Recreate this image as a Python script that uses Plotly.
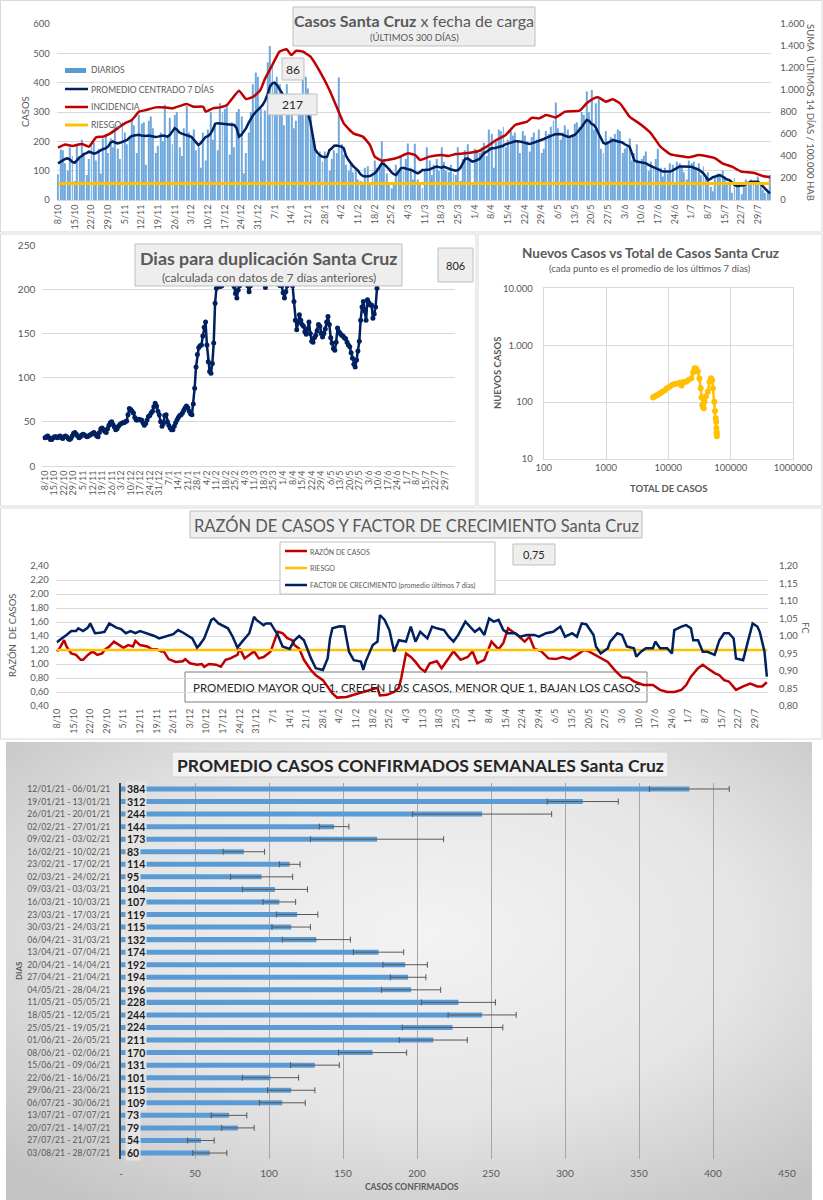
import base64
import plotly.graph_objects as go

W, H = 823, 1200
FONT = "Lato"
GRAY = "#595959"
GRID = "#d9d9d9"
NAVY = "#002060"
RED = "#C00000"
YEL = "#FFC000"
BLUE = "#5B9BD5"

# ---------------- data ----------------
TICK_LABELS = ["8/10", "15/10", "22/10", "29/10", "5/11", "12/11", "19/11", "26/11", "3/12", "10/12",
               "17/12", "24/12", "31/12", "7/1", "14/1", "21/1", "28/1", "4/2", "11/2", "18/2",
               "25/2", "4/3", "11/3", "18/3", "25/3", "1/4", "8/4", "15/4", "22/4", "29/4",
               "6/5", "13/5", "20/5", "27/5", "3/6", "10/6", "17/6", "24/6", "1/7", "8/7",
               "15/7", "22/7", "29/7"]

# daily cases (last 300 days), one value per day
DIARIOS = [
    88, 172, 170, 125, 100, 180, 150, 65, 190, 150,
    205, 160, 85, 140, 200, 195, 135, 175, 90, 210,
    225, 160, 210, 180, 250, 175, 140, 265, 230, 190,
    220, 270, 255, 160, 290, 260, 265, 120, 270, 285,
    245, 160, 185, 230, 200, 325, 220, 280, 190, 290,
    300, 180, 150, 245, 320, 230, 205, 240, 170, 180,
    110, 230, 135, 240, 300, 205, 260, 170, 330, 300,
    310, 320, 155, 265, 180, 300, 310, 285, 90, 160,
    230, 300, 395, 435, 420, 310, 135, 305, 470, 525,
    460, 400, 420, 395, 370, 255, 395, 290, 295, 245,
    270, 290, 330, 420, 420, 380, 300, 205, 175, 150,
    165, 130, 165, 145, 100, 140, 170, 160, 418, 190,
    155, 120, 100, 125, 95, 110, 70, 65, 55, 110,
    115, 55, 95, 135, 110, 120, 200, 140, 90, 60,
    40, 60, 120, 100, 150, 100, 140, 193, 110, 70,
    192, 70, 60, 40, 100, 180, 135, 85, 120, 140,
    100, 180, 130, 100, 95, 120, 90, 85, 180, 65,
    140, 170, 190, 140, 60, 175, 165, 160, 180, 195,
    150, 240, 225, 110, 200, 240, 235, 250, 180, 205,
    235, 220, 230, 200, 160, 235, 220, 200, 165, 215,
    230, 205, 240, 160, 175, 235, 225, 250, 270, 332,
    245, 205, 230, 255, 240, 215, 225, 260, 265, 250,
    300, 290, 370, 300, 375, 240, 330, 347, 175, 160,
    235, 200, 215, 210, 225, 240, 235, 160, 175, 180,
    210, 135, 160, 190, 125, 140, 150, 165, 100, 130,
    115, 140, 175, 110, 80, 110, 90, 125, 120, 55,
    130, 125, 115, 95, 70, 135, 125, 130, 110, 125,
    85, 115, 75, 95, 45, 30, 80, 90, 85, 100,
    80, 60, 55, 25, 75, 60, 55, 20, 55, 70,
    65, 70, 60, 55, 80, 50, 35, 25, 30, 86,
]
DIARIOS_ULTIMO = "86"
PROMEDIO_ETIQUETA = "217"

# centred 7-day average, one value per day
PROMEDIO = [
    125, 130, 135, 140, 142, 138, 130, 127, 135, 145,
    150, 157, 160, 165, 162, 158, 160, 165, 170, 174,
    176, 182, 195, 200, 196, 193, 195, 198, 200, 205,
    212, 218, 220, 222, 222, 220, 218, 218, 220, 218,
    216, 215, 216, 218, 220, 218, 216, 222, 232, 245,
    240, 230, 226, 224, 222, 218, 215, 205, 195, 187,
    195, 205, 215, 218, 225, 240, 260, 262, 261, 262,
    260, 259, 258, 257, 256, 245, 216, 222, 233, 245,
    262, 278, 290, 300, 307, 316, 325, 339, 360, 386,
    398, 400, 392, 380, 365, 350, 335, 325, 318, 312,
    310, 305, 300, 298, 296, 295, 265, 215, 172, 160,
    152, 148, 146, 148, 170, 176, 185, 186, 185, 182,
    176, 150, 136, 125, 115, 108, 100, 88, 82, 80,
    80, 82, 86, 91, 100, 115, 125, 122, 115, 105,
    95, 88, 85, 95, 108, 110, 108, 106, 104, 100,
    95, 91, 95, 102, 102, 102, 104, 108, 112, 114,
    112, 110, 114, 110, 106, 104, 102, 100, 102, 110,
    125, 140, 142, 135, 131, 133, 136, 140, 150, 160,
    165, 170, 176, 176, 178, 180, 182, 185, 190, 193,
    196, 198, 200, 200, 200, 198, 195, 192, 191, 193,
    196, 198, 200, 205, 208, 212, 216, 219, 222, 224,
    225, 225, 222, 218, 216, 216, 218, 222, 230, 239,
    250, 262, 273, 270, 260, 256, 245, 227, 210, 195,
    191, 195, 200, 204, 202, 200, 199, 196, 190, 185,
    182, 160, 135, 131, 130, 129, 128, 125, 120, 116,
    114, 110, 105, 100, 97, 97, 96, 97, 100, 105,
    110, 114, 114, 114, 114, 114, 113, 110, 108, 104,
    98, 91, 80, 68, 72, 78, 80, 83, 85, 80,
    75, 70, 68, 60, 52, 48, 48, 48, 50, 55,
    60, 62, 62, 62, 62, 55, 45, 38, 30, 23,
]

# 14-day incidence per 100.000 inhabitants (right axis)
INC_DAYS = [0, 3, 6, 10, 13, 16, 19, 22, 25, 28, 31, 34, 37, 41, 45, 48, 54, 57, 61, 62,
            65, 68, 71, 73, 76, 79, 82, 85, 87, 90, 93, 96, 98, 100, 103, 104, 106, 110, 114, 117,
            120, 124, 128, 131, 133, 136, 140, 143, 147, 150, 152, 156, 161, 164, 167, 171, 177, 180, 184, 188,
            192, 197, 199, 202, 205, 209, 213, 219, 222, 225, 227, 230, 233, 236, 240, 245, 249, 253, 257, 263,
            265, 269, 272, 276, 279, 283, 287, 292, 296, 299]
INC_VALS = [476, 505, 491, 509, 485, 570, 576, 606, 651, 697, 727, 803, 818, 842, 842, 833, 873, 848, 848, 803,
            833, 842, 864, 918, 994, 918, 939, 1000, 1106, 1227, 1348, 1370, 1318, 1357, 1348, 1333, 1303, 1167, 1000, 848,
            697, 606, 576, 500, 394, 358, 370, 388, 424, 409, 364, 394, 409, 400, 418, 424, 448, 485, 545, 591,
            682, 712, 748, 742, 773, 751, 803, 812, 879, 924, 933, 894, 915, 879, 758, 682, 606, 485, 418, 394,
            388, 409, 400, 379, 333, 303, 258, 248, 218, 206]
RIESGO_INC = 150

# days for doubling (daily, from 8/10)
DUPLICACION = [
    32, 33, 34, 32, 30, 30, 32, 33, 33, 32,
    33, 34, 32, 31, 33, 34, 33, 31, 30, 31,
    34, 37, 38, 36, 34, 32, 33, 35, 36, 35,
    34, 33, 34, 35, 36, 37, 38, 36, 34, 33,
    38, 42, 43, 41, 39, 38, 42, 46, 49, 50,
    47, 44, 41, 42, 45, 47, 48, 49, 49, 50,
    51, 58, 65, 64, 62, 60, 55, 52, 52, 53,
    52, 52, 49, 46, 48, 52, 56, 57, 60, 62,
    67, 71, 68, 62, 58, 50, 45, 48, 57, 58,
    50, 46, 43, 41, 41, 45, 49, 52, 55, 57,
    58, 60, 63, 66, 68, 66, 62, 59, 58, 70,
    88, 112, 126, 134, 136, 137, 147, 157, 163, 137,
    118, 107, 105, 116, 139, 184, 201, 203, 203, 203,
    204, 260, 320, 380, 420, 390, 340, 290, 240, 203,
    195, 190, 199, 204, 240, 300, 280, 230, 210, 204,
    197, 204, 240, 320, 420, 500, 460, 380, 300, 260,
    230, 210, 202, 230, 300, 380, 450, 400, 330, 280,
    240, 215, 205, 204, 204, 196, 190, 197, 204, 230,
    250, 215, 204, 186, 165, 154, 162, 171, 165, 160,
    158, 152, 149, 155, 163, 150, 141, 140, 145, 148,
    153, 160, 158, 150, 146, 150, 155, 163, 169, 160,
    145, 139, 133, 131, 140, 156, 152, 150, 148, 147,
    145, 144, 140, 137, 135, 128, 122, 115, 112, 120,
    130, 141, 165, 180, 186, 175, 165, 188, 185, 182,
    182, 167, 172, 180, 201, 260,
]
DUP_ULTIMO = "806"

# new cases vs total cases (7-day averages)
TOTAL_CASOS = [5700, 6000, 6400, 6800, 7300, 7900, 8700, 9500, 10500, 11500,
               12600, 14000, 15500, 16300, 17500, 19400, 21000, 23400, 25000, 26400,
               27800, 29700, 31500, 33000, 34000, 35000, 36000, 37000, 38000, 40000,
               43000, 45700, 48500, 50500, 52000, 54600, 56000, 57500, 58500, 59000,
               59500, 59800, 60000]
NUEVOS_CASOS = [120, 126, 130, 135, 142, 150, 160, 175, 187, 200,
                208, 213, 218, 195, 225, 229, 245, 262, 330, 392,
                390, 344, 260, 175, 120, 89, 82, 78, 100, 125,
                152, 229, 262, 240, 175, 101, 70, 52, 45, 35,
                30, 28, 25]

# case ratio (left axis) and growth factor (right axis)
RAZON_DAYS = [0, 1, 3, 4, 6, 8, 10, 11, 13, 15, 17, 19, 20, 22, 24, 26, 28, 30, 32, 33,
              35, 38, 40, 42, 44, 45, 47, 50, 53, 54, 56, 59, 61, 62, 64, 67, 69, 71, 73, 76,
              77, 79, 81, 83, 85, 87, 89, 90, 92, 93, 95, 97, 99, 100, 102, 104, 107, 109, 112, 114,
              116, 118, 122, 125, 128, 130, 133, 135, 136, 139, 142, 144, 145, 146, 147, 149, 151, 153, 155, 157,
              160, 162, 164, 167, 170, 173, 175, 177, 180, 183, 186, 188, 190, 192, 194, 197, 199, 201, 204, 207,
              210, 213, 216, 219, 222, 224, 228, 232, 235, 238, 241, 243, 247, 251, 254, 257, 260, 263, 265, 267,
              270, 272, 274, 277, 279, 281, 283, 286, 289, 292, 295, 297, 299]
RAZON_VALS = [1.18, 1.22, 1.34, 1.25, 1.15, 1.13, 1.06, 1.06, 1.13, 1.18, 1.13, 1.15, 1.20, 1.25, 1.32, 1.27, 1.23, 1.27, 1.25, 1.33,
              1.27, 1.25, 1.21, 1.21, 1.18, 1.18, 1.07, 1.03, 1.04, 1.07, 1.01, 0.99, 1.00, 0.96, 1.00, 0.99, 0.96, 1.06, 1.08, 1.13,
              1.22, 1.08, 1.13, 1.18, 1.08, 1.10, 1.15, 1.18, 1.37, 1.46, 1.44, 1.37, 1.34, 1.27, 1.22, 1.06, 0.91, 0.84, 0.77, 0.68,
              0.58, 0.52, 0.53, 0.56, 0.59, 0.61, 0.63, 0.66, 0.55, 0.56, 0.60, 0.66, 0.80, 0.99, 1.15, 1.10, 1.03, 0.94, 0.89, 1.01,
              1.04, 0.94, 1.03, 1.18, 1.06, 1.10, 1.18, 1.01, 1.06, 1.32, 1.21, 1.30, 1.51, 1.46, 1.41, 1.32, 1.39, 1.22, 1.18, 1.08,
              1.07, 1.10, 1.07, 1.13, 1.20, 1.18, 1.10, 1.03, 0.91, 0.81, 0.80, 0.75, 0.70, 0.70, 0.63, 0.60, 0.60, 0.63, 0.70, 0.82,
              0.94, 0.99, 0.94, 0.87, 0.84, 0.77, 0.75, 0.63, 0.68, 0.72, 0.68, 0.68, 0.74]
RIESGO_RAZON = 1.20
RAZON_ULTIMO = "0,75"

FC_DAYS = [0, 1, 4, 6, 8, 9, 11, 13, 14, 16, 18, 20, 22, 25, 27, 29, 31, 33, 35, 38,
           41, 43, 46, 49, 51, 53, 57, 59, 60, 62, 65, 66, 68, 72, 74, 76, 78, 81, 83, 84,
           87, 88, 90, 93, 95, 98, 100, 102, 104, 107, 109, 112, 114, 115, 116, 119, 121, 123, 125, 128,
           129, 130, 133, 135, 136, 138, 140, 142, 144, 147, 149, 151, 153, 156, 158, 160, 163, 165, 167, 169,
           172, 174, 176, 178, 180, 182, 184, 186, 188, 190, 193, 195, 198, 201, 203, 206, 209, 212, 214, 217,
           219, 221, 223, 226, 227, 229, 232, 233, 236, 238, 240, 243, 244, 246, 248, 251, 252, 254, 257, 259,
           260, 263, 265, 267, 268, 270, 272, 274, 276, 277, 279, 281, 283, 285, 286, 289, 291, 293, 295, 296,
           298, 299]
FC_VALS = [0.982, 0.988, 1.003, 1.014, 1.014, 1.022, 1.014, 1.024, 1.036, 1.008, 1.009, 1.012, 1.036, 1.024, 1.020, 1.008, 1.014, 1.008, 1.014, 1.008,
           1.000, 0.993, 0.998, 1.005, 1.017, 1.010, 0.993, 0.967, 0.974, 0.993, 1.046, 1.050, 1.036, 1.022, 0.998, 0.967, 0.984, 1.008, 1.055, 1.046,
           1.031, 1.036, 1.036, 1.003, 0.970, 0.963, 0.988, 1.000, 0.988, 0.936, 0.908, 0.903, 0.936, 0.993, 1.022, 1.028, 1.027, 0.955, 0.931, 0.927,
           0.903, 0.927, 0.974, 0.984, 1.060, 1.046, 1.017, 0.955, 0.988, 0.984, 1.027, 0.984, 1.012, 0.993, 1.027, 1.022, 1.017, 0.998, 0.984, 1.003,
           1.041, 1.027, 1.012, 1.022, 1.003, 1.050, 1.041, 1.046, 1.017, 1.008, 1.008, 0.998, 1.003, 1.003, 0.998, 1.008, 1.012, 1.027, 0.998, 1.008,
           0.998, 1.036, 1.033, 1.003, 0.970, 0.950, 0.965, 0.984, 1.008, 1.003, 0.970, 0.965, 0.941, 0.955, 0.965, 0.965, 0.984, 0.965, 0.965, 0.950,
           1.017, 1.027, 1.031, 1.022, 0.988, 0.988, 0.955, 0.955, 0.950, 0.946, 0.988, 1.008, 1.008, 0.993, 0.936, 0.931, 0.984, 1.036, 1.027, 1.012,
           0.955, 0.884]

# weekly averages
SEMANAS = ["12/01/21 - 06/01/21", "19/01/21 - 13/01/21", "26/01/21 - 20/01/21", "02/02/21 - 27/01/21",
           "09/02/21 - 03/02/21", "16/02/21 - 10/02/21", "23/02/21 - 17/02/21", "02/03/21 - 24/02/21",
           "09/03/21 - 03/03/21", "16/03/21 - 10/03/21", "23/03/21 - 17/03/21", "30/03/21 - 24/03/21",
           "06/04/21 - 31/03/21", "13/04/21 - 07/04/21", "20/04/21 - 14/04/21", "27/04/21 - 21/04/21",
           "04/05/21 - 28/04/21", "11/05/21 - 05/05/21", "18/05/21 - 12/05/21", "25/05/21 - 19/05/21",
           "01/06/21 - 26/05/21", "08/06/21 - 02/06/21", "15/06/21 - 09/06/21", "22/06/21 - 16/06/21",
           "29/06/21 - 23/06/21", "06/07/21 - 30/06/21", "13/07/21 - 07/07/21", "20/07/21 - 14/07/21",
           "27/07/21 - 21/07/21", "03/08/21 - 28/07/21"]
PROMEDIO_SEMANAL = [384, 312, 244, 144, 173, 83, 114, 95, 104, 107, 119, 115, 132, 174, 192,
                    194, 196, 228, 244, 224, 211, 170, 131, 101, 115, 109, 73, 79, 54, 60]
DESVIO_SEMANAL = [27, 24, 47, 10, 45, 14, 7, 21, 22, 11, 14, 13, 23, 17, 15,
                  12, 20, 25, 23, 34, 23, 23, 16.5, 19, 16, 15.5, 12, 11, 9, 11.5]
BAR_TICKS = [0, 50, 100, 150, 200, 250, 300, 350, 400, 450]
BAR_TICK_TEXT = ["-", "50", "100", "150", "200", "250", "300", "350", "400", "450"]


# ---------------- helpers ----------------
def PX(X):
    return X / W


def PY(Y):
    return 1 - Y / H


def rect(X0, Y0, X1, Y1, fill="rgba(0,0,0,0)", line=GRID, width=1, layer="above"):
    return dict(type="rect", xref="paper", yref="paper", x0=PX(X0), x1=PX(X1), y0=PY(Y1), y1=PY(Y0),
                fillcolor=fill, line=dict(color=line, width=width), layer=layer)


def seg(X0, Y0, X1, Y1, color, width):
    return dict(type="line", xref="paper", yref="paper", x0=PX(X0), x1=PX(X1), y0=PY(Y0), y1=PY(Y1),
                line=dict(color=color, width=width), layer="above")


def txt(X, Y, s, size=10, color=GRAY, xanchor="center", yanchor="middle", angle=0):
    return dict(x=PX(X), y=PY(Y), xref="paper", yref="paper", text=s, showarrow=False,
                font=dict(family=FONT, size=size, color=color), xanchor=xanchor, yanchor=yanchor,
                textangle=angle)


days = list(range(len(DIARIOS)))
tickvals = [7 * i for i in range(len(TICK_LABELS))]

fig = go.Figure()

# ---- panel 1 ----
fig.add_trace(go.Bar(x=days, y=DIARIOS, marker=dict(color="#6FA8DC", line=dict(width=0)),
                     xaxis="x", yaxis="y", name="DIARIOS", showlegend=False))
fig.add_trace(go.Scatter(x=days, y=[RIESGO_INC] * len(days), mode="lines", line=dict(color=YEL, width=3),
                         xaxis="x", yaxis="y2", showlegend=False))
fig.add_trace(go.Scatter(x=days, y=PROMEDIO, mode="lines", line=dict(color=NAVY, width=2.5),
                         xaxis="x", yaxis="y", showlegend=False))
fig.add_trace(go.Scatter(x=INC_DAYS, y=INC_VALS, mode="lines",
                         line=dict(color=RED, width=2.5, shape="spline", smoothing=0.4),
                         xaxis="x", yaxis="y2", showlegend=False))

# ---- panel 2 ----
fig.add_trace(go.Scatter(x=list(range(len(DUPLICACION))), y=DUPLICACION, mode="lines+markers",
                         line=dict(color=NAVY, width=2.5), marker=dict(color=NAVY, size=5),
                         xaxis="x2", yaxis="y3", showlegend=False))

# ---- panel 3 ----
fig.add_trace(go.Scatter(x=TOTAL_CASOS, y=NUEVOS_CASOS, mode="lines+markers",
                         line=dict(color=YEL, width=2.5), marker=dict(color=YEL, size=6),
                         xaxis="x3", yaxis="y4", showlegend=False))

# ---- panel 4 ----
fig.add_trace(go.Scatter(x=RAZON_DAYS, y=RAZON_VALS, mode="lines", line=dict(color=RED, width=2.5),
                         xaxis="x4", yaxis="y5", showlegend=False))
fig.add_trace(go.Scatter(x=days, y=[RIESGO_RAZON] * len(days), mode="lines", line=dict(color=YEL, width=2.5),
                         xaxis="x4", yaxis="y5", showlegend=False))
fig.add_trace(go.Scatter(x=FC_DAYS, y=FC_VALS, mode="lines", line=dict(color=NAVY, width=2.5),
                         xaxis="x4", yaxis="y6", showlegend=False))

# ---- panel 5 ----
rows = list(range(len(SEMANAS)))
fig.add_trace(go.Bar(x=PROMEDIO_SEMANAL, y=rows, orientation="h",
                     marker=dict(color=BLUE, line=dict(width=0)),
                     error_x=dict(type="data", array=DESVIO_SEMANAL, color="#595959", thickness=1, width=3),
                     xaxis="x5", yaxis="y7", showlegend=False))

tickfont = dict(family=FONT, size=9, color=GRAY)
k1 = (770 - 58) / 299.0
k2 = 400 / 294.0
k4 = (755 - 57) / 294.0

layout = dict(
    width=W, height=H, autosize=False,
    margin=dict(l=0, r=0, t=0, b=0, pad=0, autoexpand=False),
    paper_bgcolor="white", plot_bgcolor="rgba(0,0,0,0)",
    font=dict(family=FONT, color=GRAY), bargap=0.6, showlegend=False,
    # panel 1
    xaxis=dict(domain=[PX(58 - 0.5 * k1), PX(58 + 299.5 * k1)], range=[-0.5, 299.5], anchor="y",
               tickvals=tickvals, ticktext=TICK_LABELS, tickangle=-90, tickfont=tickfont,
               showgrid=False, showline=True, linecolor=GRID, ticks="", zeroline=False),
    yaxis=dict(domain=[PY(200), PY(24)], range=[0, 600], dtick=100, gridcolor=GRID, zeroline=False,
               tickfont=dict(family=FONT, size=9.5, color=GRAY), anchor="x", ticklabelstandoff=6),
    yaxis2=dict(overlaying="y", side="right", range=[0, 1600], anchor="x",
                tickvals=[0, 200, 400, 600, 800, 1000, 1200, 1400, 1600],
                ticktext=["0", "200", "400", "600", "800", "1.000", "1.200", "1.400", "1.600"],
                showgrid=False, zeroline=False, tickfont=dict(family=FONT, size=9.5, color=GRAY),
                ticklabelstandoff=8),
    # panel 2
    xaxis2=dict(domain=[PX(45 - 2 * k2), PX(45 + 301.5 * k2)], range=[-2, 301.5], anchor="y3",
                tickvals=tickvals, ticktext=TICK_LABELS, tickangle=-90, tickfont=tickfont,
                showgrid=False, showline=True, linecolor=GRID, ticks="", zeroline=False),
    yaxis3=dict(domain=[PY(466), PY(245)], range=[0, 250], dtick=50, gridcolor=GRID, zeroline=False,
                tickfont=dict(family=FONT, size=10, color=GRAY), anchor="x2", ticklabelstandoff=6),
    # panel 3
    xaxis3=dict(domain=[PX(543.7), PX(793)], type="log", range=[2, 6], anchor="y4",
                tickvals=[100, 1000, 10000, 100000, 1000000],
                ticktext=["100", "1000", "10000", "100000", "1000000"],
                gridcolor=GRID, showline=True, mirror=True, linecolor=GRID, ticks="", zeroline=False,
                tickfont=dict(family=FONT, size=9.5, color=GRAY)),
    yaxis4=dict(domain=[PY(459), PY(288.3)], type="log", range=[1, 4], anchor="x3",
                tickvals=[10, 100, 1000, 10000], ticktext=["10", "100", "1.000", "10.000"],
                gridcolor=GRID, showline=True, mirror=True, linecolor=GRID, ticks="", zeroline=False,
                tickfont=dict(family=FONT, size=9.5, color=GRAY), ticklabelstandoff=8),
    # panel 4
    xaxis4=dict(domain=[PX(57 - 0.5 * k4), PX(57 + 299.5 * k4)], range=[-0.5, 299.5], anchor="y5",
                tickvals=tickvals, ticktext=TICK_LABELS, tickangle=-90, tickfont=tickfont,
                showgrid=False, showline=False, ticks="", zeroline=False),
    yaxis5=dict(domain=[PY(706), PY(566)], range=[0.4, 2.4], anchor="x4",
                tickvals=[0.4 + 0.2 * i for i in range(11)],
                ticktext=["0,40", "0,60", "0,80", "1,00", "1,20", "1,40", "1,60", "1,80", "2,00", "2,20", "2,40"],
                gridcolor=GRID, zeroline=False, tickfont=dict(family=FONT, size=9.5, color=GRAY),
                ticklabelstandoff=6),
    yaxis6=dict(overlaying="y5", side="right", range=[0.8, 1.2], anchor="x4",
                tickvals=[0.8 + 0.05 * i for i in range(9)],
                ticktext=["0,80", "0,85", "0,90", "0,95", "1,00", "1,05", "1,10", "1,15", "1,20"],
                showgrid=False, zeroline=False, tickfont=dict(family=FONT, size=9.5, color=GRAY),
                ticklabelstandoff=10),
    # panel 5
    xaxis5=dict(domain=[PX(121), PX(787)], range=[0, 450], anchor="y7", tickvals=BAR_TICKS,
                ticktext=BAR_TICK_TEXT, gridcolor="#a6a6a6", zeroline=False,
                ticks="outside", ticklen=5, tickcolor="rgba(0,0,0,0)",
                tickfont=dict(family=FONT, size=10, color=GRAY)),
    yaxis7=dict(domain=[PY(1159.3), PY(782.7)], range=[29.5, -0.5], anchor="x5", tickvals=rows,
                ticktext=SEMANAS, showgrid=False, zeroline=False, showline=True, linecolor="#404040",
                linewidth=2, ticks="outside", ticklen=7, tickcolor="rgba(0,0,0,0)",
                tickfont=dict(family=FONT, size=8.6, color=GRAY)),
)
fig.update_layout(**layout)

# gradient background for panel 5
svg = ('<svg xmlns="http://www.w3.org/2000/svg" width="806" height="458">'
       '<defs><radialGradient id="g" cx="52%" cy="42%" r="72%">'
       '<stop offset="0%" stop-color="#f3f3f3"/><stop offset="55%" stop-color="#e5e5e5"/>'
       '<stop offset="100%" stop-color="#c4c4c4"/></radialGradient></defs>'
       '<rect width="806" height="458" fill="url(#g)"/></svg>')
src = "data:image/svg+xml;base64," + base64.b64encode(svg.encode()).decode()
fig.add_layout_image(dict(source=src, xref="paper", yref="paper", x=PX(6), y=PY(742),
                          sizex=PX(812) - PX(6), sizey=(H - 742) / H, xanchor="left", yanchor="top",
                          sizing="stretch", layer="below"))

shapes = []
ann = []
BOXF = "#eeeeee"
BOXL = "#bfbfbf"

# panel frames
shapes += [rect(0.5, 0.5, 822, 232), rect(0.5, 234, 476, 506), rect(478, 234, 822, 506),
           rect(0.5, 508, 822, 739)]

# panel 1 title + legend + boxes
shapes.append(rect(293, 7, 535, 46, fill=BOXF, line=BOXL))
ann.append(txt(414, 20, "<b>Casos Santa Cruz</b> x fecha de carga", size=16))
ann.append(txt(414, 37, "(ÚLTIMOS 300 DÍAS)", size=9.5))
shapes.append(rect(65, 68, 86, 73, fill=BLUE, line=BLUE, width=0))
shapes.append(seg(65, 89, 88, 89, NAVY, 2.5))
shapes.append(seg(65, 107, 88, 107, RED, 2.5))
shapes.append(seg(65, 125, 88, 125, YEL, 3))
for Y, s in [(70, "DIARIOS"), (89, "PROMEDIO CENTRADO 7 DÍAS"), (107, "INCIDENCIA"), (125, "RIESGO")]:
    ann.append(txt(89, Y, s, size=8.5, xanchor="left"))
shapes.append(rect(282, 58, 304, 80, fill=BOXF, line=BOXL))
ann.append(txt(293, 69, DIARIOS_ULTIMO, size=12, color="#262626"))
shapes.append(rect(268, 94, 317, 115, fill=BOXF, line=BOXL))
ann.append(txt(292.5, 104.5, PROMEDIO_ETIQUETA, size=12, color="#262626"))
ann.append(txt(25, 112, "CASOS", size=9.5, angle=-90))
ann.append(txt(811, 112, "SUMA  ÚLTIMOS 14 DÍAS / 100.000 HAB", size=9.5, angle=90))

# panel 2
shapes.append(rect(135, 244, 402, 286, fill=BOXF, line=BOXL))
ann.append(txt(268.5, 258, "<b>Dias para duplicación Santa Cruz</b>", size=17.8))
ann.append(txt(268.5, 277, "(calculada con datos de 7 días anteriores)", size=12))
shapes.append(rect(438, 248, 473, 282, fill=BOXF, line=BOXL))
ann.append(txt(455.5, 265, DUP_ULTIMO, size=11, color="#262626"))

# panel 3
ann.append(txt(650, 253, "<b>Nuevos Casos vs Total de Casos Santa Cruz</b>", size=13.5))
ann.append(txt(650, 269, "(cada punto es el promedio de los últimos 7 días)", size=9.5))
ann.append(txt(498, 373, "<b>NUEVOS CASOS</b>", size=9.5, angle=-90))
ann.append(txt(668, 488, "<b>TOTAL DE CASOS</b>", size=9.5))

# panel 4
shapes.append(rect(190, 511, 642, 538, fill=BOXF, line=BOXL))
ann.append(txt(416, 525, "RAZÓN DE CASOS Y FACTOR DE CRECIMIENTO Santa Cruz", size=16.5))
shapes.append(rect(280, 542, 495, 594, fill="white", line=BOXL))
shapes.append(seg(285, 551, 307, 551, RED, 2.5))
shapes.append(seg(285, 568, 307, 568, YEL, 2.5))
shapes.append(seg(285, 585, 307, 585, NAVY, 2.5))
for Y, s in [(551, "RAZÓN DE CASOS"), (568, "RIESGO"), (585, "FACTOR DE CRECIMIENTO (promedio últimos 7 días)")]:
    ann.append(txt(308, Y, s, size=7, xanchor="left"))
shapes.append(rect(513, 544, 555, 565, fill=BOXF, line=BOXL))
ann.append(txt(534, 554.5, RAZON_ULTIMO, size=11, color="#262626"))
shapes.append(rect(185, 672, 647, 702, fill="white", line="#7f7f7f", layer="between"))
ann.append(txt(416, 687, "PROMEDIO MAYOR QUE 1, CRECEN LOS CASOS, MENOR QUE 1, BAJAN LOS CASOS", size=11.5,
               color="#262626"))
ann.append(txt(12, 635, "RAZÓN  DE CASOS", size=9.5, angle=-90))
ann.append(txt(806, 628, "FC", size=9.5, angle=90))

# panel 5
shapes.append(rect(172, 752, 668, 777, fill="#f2f2f2", line="#d0d0d0"))
ann.append(txt(420, 765, "<b>PROMEDIO CASOS CONFIRMADOS SEMANALES Santa Cruz</b>", size=17.5, color="#262626"))
ann.append(txt(19, 971, "<b>DIAS</b>", size=8, angle=-90))
ann.append(txt(412, 1187, "<b>CASOS CONFIRMADOS</b>", size=8.5))
for i, v in enumerate(PROMEDIO_SEMANAL):
    ann.append(dict(x=0, y=i, xref="x5", yref="y7", text=f"<b>{v}</b>", showarrow=False,
                    xanchor="left", xshift=4, bgcolor="#e4e4e4", borderpad=1,
                    font=dict(family=FONT, size=10.5, color="#1a1a1a")))

fig.update_layout(shapes=shapes, annotations=ann)
fig.write_html("out.html", config={"displayModeBar": False},
               post_script="document.body.style.margin='0px';document.body.style.overflow='hidden';")
